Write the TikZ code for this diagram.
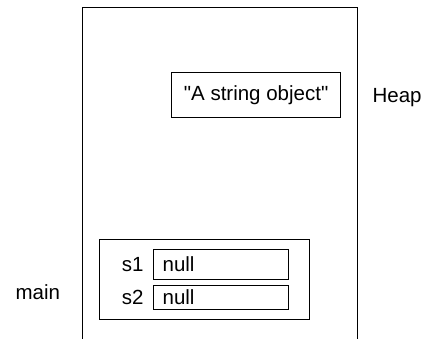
\documentclass[tikz,border=0pt]{standalone}
\usepackage{fontspec}
\setmainfont{Liberation Sans}[Ligatures=TeXOff]
\usepackage{tikz}
\usetikzlibrary{positioning}

\begin{document}
\begin{tikzpicture}[x=1pt, y=-1pt, line width=1.2pt,
    every node/.style={font=\fontsize{20.5}{24}\selectfont},
    box/.style={draw, inner sep=0pt, anchor=north west},
    field/.style={box, minimum width=135pt, text width=117pt, inner xsep=9pt, align=left},
    tag/.style={inner sep=0pt}]
  \useasboundingbox (0,0) rectangle (425,339);
  % heap area, open at the bottom
  \draw (82.5,339) -- (82.5,7.5) -- (357.5,7.5) -- (357.5,339);
  \node[box, minimum width=169pt, minimum height=45pt] (obj) at (171,72) {"A string object"};
  \node[tag, anchor=base west] (heap) at (372,103) {Heap};
  % stack frame of main
  \node[box, minimum width=210pt, minimum height=80pt] (frame) at (99,239) {};
  \node[field, minimum height=30pt] (f1) at (153,249) {null};
  \node[field, minimum height=24pt] (f2) at (153,285) {null};
  \node[tag, left=9pt of f1] (s1) {s1};
  \node[tag, left=9pt of f2] (s2) {s2};
  \node[tag, anchor=base west] (main) at (15,299) {main};
\end{tikzpicture}
\end{document}
